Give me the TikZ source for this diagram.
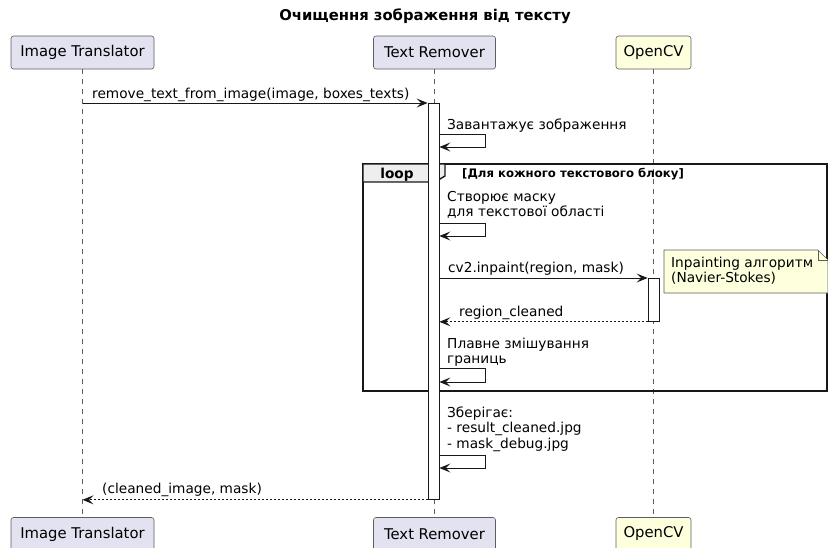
\documentclass[tikz,border=0pt]{standalone}
\usepackage{fontspec}
\setmainfont{DejaVu Sans}
\usetikzlibrary{arrows.meta}
\definecolor{partfill}{HTML}{E2E2F0}
\definecolor{cvfill}{HTML}{FEFFDD}
\definecolor{notefill}{HTML}{FEFFDD}
\definecolor{ink}{HTML}{181818}
\definecolor{tabfill}{HTML}{EEEEEE}
% stacked lines whose reference point is the first baseline
\newcommand\stacklines[1]{\vtop{\halign{##\hfil\cr #1\crcr}}}
\tikzset{
  part/.style={draw=ink!70, fill=partfill, rounded corners=2.5pt, line width=0.6pt,
    minimum height=33pt, inner sep=0pt, font=\fontsize{14.8}{16}\selectfont},
  life/.style={draw=ink!70, line width=0.5pt, dash pattern=on 5pt off 5pt},
  act/.style={draw=ink, fill=white, line width=0.8pt, minimum width=11pt, inner sep=0pt, anchor=north},
  msg/.style={draw=ink, line width=1pt, -{Stealth[length=11pt,width=9pt,inset=4.5pt]}},
  ret/.style={msg, dash pattern=on 2pt off 2pt},
  lbl/.style={anchor=base west, inner sep=0pt, font=\fontsize{13.7}{15.6}\selectfont},
  frm/.style={draw=ink, line width=1.4pt},
}
\begin{document}
\begin{tikzpicture}[x=1pt,y=-1pt]
\useasboundingbox (0,0) rectangle (828,547);
\clip (0,0) rectangle (828,547);

% title
\node[anchor=base, inner sep=0pt, font=\bfseries\fontsize{14.8}{16}\selectfont] (title) at (425,20) {Очищення зображення від тексту};

% participants, top and bottom
\node[part, minimum width=143pt] (itT) at (82.5,52.5) {Image Translator};
\node[part, minimum width=122pt] (trT) at (434.5,52.5) {Text Remover};
\node[part, minimum width=75pt, fill=cvfill] (cvT) at (653.5,52.5) {OpenCV};
\node[part, minimum width=143pt] (itB) at (82.5,534) {Image Translator};
\node[part, minimum width=122pt] (trB) at (434.5,534) {Text Remover};
\node[part, minimum width=75pt, fill=cvfill] (cvB) at (653.5,534) {OpenCV};

% lifelines
\draw[life] (itT.south) -- (itB.north);
\draw[life] (trT.south) -- (trB.north);
\draw[life] (cvT.south) -- (cvB.north);

% loop frame
\draw[frm] (363,164) rectangle (827,391);
\draw[frm, fill=tabfill] (363,164) -- (445,164) -- (445,176) -- (435,182) -- (363,182) -- cycle;
\node[anchor=base, inner sep=0pt, font=\bfseries\fontsize{13.7}{15}\selectfont] (looplbl) at (397,178) {loop};
\node[anchor=base west, inner sep=0pt, font=\bfseries\fontsize{11.7}{13}\selectfont] (loopcond) at (462,177.5) {[Для кожного текстового блоку]};

% activations
\node[act, minimum height=396pt] (actTR) at (433.5,103) {};
\node[act, minimum height=43pt] (actCV) at (653.5,278) {};

% call into the remover
\draw[msg] (itT.south |- actTR.north) -- (actTR.north west);
\node[lbl] (m1) at (92,98) {remove\_text\_from\_image(image, boxes\_texts)};

% load
\coordinate (s1a) at (actTR.east |- 0,134);
\coordinate (s1b) at (actTR.east |- 0,147);
\draw[msg] (s1a) -- ++(46,0) -- ++(0,13) -- (s1b);
\node[lbl] (m2) at (447,129) {Завантажує зображення};

% mask
\coordinate (s2a) at (actTR.east |- 0,223);
\coordinate (s2b) at (actTR.east |- 0,236);
\draw[msg] (s2a) -- ++(46,0) -- ++(0,13) -- (s2b);
\node[lbl] (m3) at (447,201) {\stacklines{Створює маску\cr для текстової області}};

% inpaint call and return
\draw[msg] (actTR.east |- actCV.north) -- (actCV.north west);
\node[lbl] (m4) at (448,272) {cv2.inpaint(region, mask)};
\draw[ret] (actCV.south west) -- (actTR.east |- actCV.south);
\node[lbl] (m5) at (459,316) {region\_cleaned};

% note
\draw[draw=ink!70, line width=0.6pt, fill=notefill] (664,250) -- (818,250) -- (828,260) -- (828,293) -- (664,293) -- cycle;
\draw[draw=ink!70, line width=0.6pt] (818,250) -- (818,260) -- (828,260);
\node[lbl] (note) at (671,267) {\stacklines{Inpainting алгоритм\cr (Navier-Stokes)}};

% blending
\coordinate (s3a) at (actTR.east |- 0,368);
\coordinate (s3b) at (actTR.east |- 0,382);
\draw[msg] (s3a) -- ++(46,0) -- ++(0,14) -- (s3b);
\node[lbl] (m6) at (447,348) {\stacklines{Плавне змішування\cr границь}};

% save
\coordinate (s4a) at (actTR.east |- 0,455);
\coordinate (s4b) at (actTR.east |- 0,468);
\draw[msg] (s4a) -- ++(46,0) -- ++(0,13) -- (s4b);
\node[lbl] (m7) at (447,417) {\stacklines{Зберігає:\cr - result\_cleaned.jpg\cr - mask\_debug.jpg}};

% final return
\draw[ret] (actTR.south west) -- (itT.south |- actTR.south);
\node[lbl] (m8) at (102,493) {(cleaned\_image, mask)};
\end{tikzpicture}
\end{document}
